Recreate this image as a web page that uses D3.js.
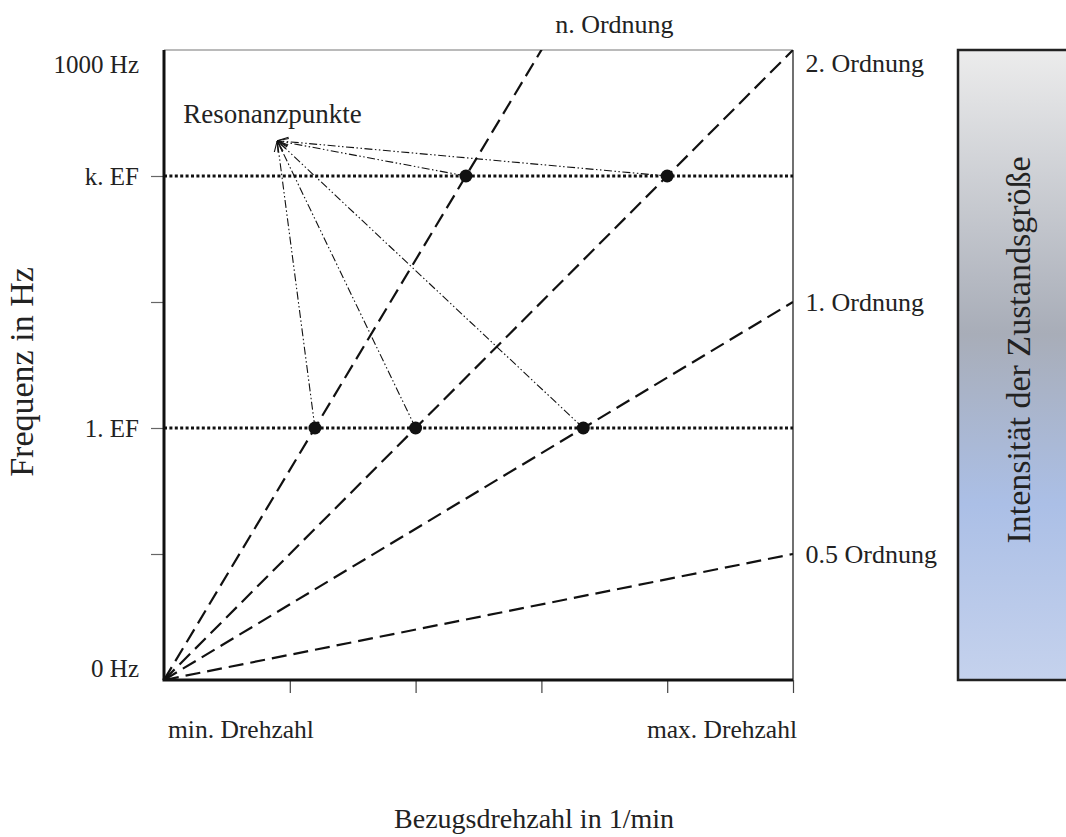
<!DOCTYPE html>
<html>
<head>
<meta charset="utf-8">
<script src="https://cdn.jsdelivr.net/npm/d3@7"></script>
<style>
  body { margin: 0; background: #fff; }
  text { font-family: "Liberation Serif", "Times New Roman", serif; fill: #222; }
</style>
</head>
<body>
<div id="chart"></div>
<script>
// order lines: slope = frequency units per speed unit
const orders = [
  { name: "n. Ordnung", slope: 5 / 3 },
  { name: "2. Ordnung", slope: 1 },
  { name: "1. Ordnung", slope: 0.6 },
  { name: "0.5 Ordnung", slope: 0.2 }
];
// where the order labels sit (data units)
const orderLabels = [
  { name: "n. Ordnung", x: 3.58, y: 5.21, anchor: "middle" },
  { name: "2. Ordnung", x: 5.1, y: 4.9, anchor: "start" },
  { name: "1. Ordnung", x: 5.1, y: 3.0, anchor: "start" },
  { name: "0.5 Ordnung", x: 5.1, y: 1.0, anchor: "start" }
];
// eigenfrequencies
const eigen = [
  { name: "1. EF", y: 2 },
  { name: "k. EF", y: 4 }
];
const yTickLabels = [
  { v: 0, label: "0 Hz" },
  { v: 2, label: "1. EF" },
  { v: 4, label: "k. EF" },
  { v: 5, label: "1000 Hz" }
];
const yTickMarks = [1, 2, 3, 4];
const xTickMarks = [1, 2, 3, 4, 5];
const xLabels = [
  { v: 0, label: "min. Drehzahl", anchor: "start" },
  { v: 5, label: "max. Drehzahl", anchor: "end" }
];
// resonance points = crossings of orders with eigenfrequencies
const resonance = [
  { x: 1.2, y: 2 }, { x: 2, y: 2 }, { x: 3.333, y: 2 },
  { x: 2.4, y: 4 }, { x: 4, y: 4 }
];
const annot = { x: 0.9, y: 4.28, label: "Resonanzpunkte" };

const svgWidth = 1066, svgHeight = 837;
const margin = { top: 50, left: 164 };
const width = 629, height = 630;

const svg = d3.select("#chart").append("svg")
  .attr("width", svgWidth)
  .attr("height", svgHeight);

const defs = svg.append("defs");
const grad = defs.append("linearGradient")
  .attr("id", "intens").attr("x1", 0).attr("y1", 0).attr("x2", 0).attr("y2", 1);
[["0%", "#ececec"], ["45%", "#a8adb8"], ["72%", "#abbfe6"], ["100%", "#c5d2ed"]]
  .forEach(s => grad.append("stop").attr("offset", s[0]).attr("stop-color", s[1]));

defs.append("marker")
  .attr("id", "arrow")
  .attr("viewBox", "0 0 10 10")
  .attr("refX", 10).attr("refY", 5)
  .attr("markerWidth", 11).attr("markerHeight", 11)
  .attr("markerUnits", "userSpaceOnUse")
  .attr("orient", "auto")
  .append("path")
  .attr("d", "M0,1 L10,5 L0,9")
  .attr("fill", "none")
  .attr("stroke", "#111")
  .attr("stroke-width", 1);

const chart = svg.append("g")
  .attr("transform", `translate(${margin.left},${margin.top})`);

const x = d3.scaleLinear().domain([0, 5]).range([0, width]);
const y = d3.scaleLinear().domain([0, 5]).range([height, 0]);

// frame: top thin grey, right thin black
chart.append("line").attr("x1", 0).attr("x2", width).attr("y1", 0).attr("y2", 0)
  .attr("stroke", "#777").attr("stroke-width", 1.2);
chart.append("line").attr("x1", width).attr("x2", width).attr("y1", 0).attr("y2", height)
  .attr("stroke", "#111").attr("stroke-width", 1.2);

// eigenfrequency lines
chart.selectAll(".ef").data(eigen).enter().append("line")
  .attr("x1", x(0)).attr("x2", x(5))
  .attr("y1", d => y(d.y)).attr("y2", d => y(d.y))
  .attr("stroke", "#111").attr("stroke-width", 3)
  .attr("stroke-dasharray", "3,2.4");

// order lines, clipped to plot
defs.append("clipPath").attr("id", "plotclip").append("rect")
  .attr("width", width).attr("height", height);
chart.append("g").attr("clip-path", "url(#plotclip)")
  .selectAll(".ord").data(orders).enter().append("line")
  .attr("x1", x(0)).attr("y1", y(0))
  .attr("x2", x(5)).attr("y2", d => y(5 * d.slope))
  .attr("stroke", "#111").attr("stroke-width", 2.2)
  .attr("stroke-dasharray", "15,7");

// annotation lines
chart.selectAll(".ann").data(resonance).enter().append("line")
  .attr("x1", d => x(d.x)).attr("y1", d => y(d.y))
  .attr("x2", x(annot.x)).attr("y2", y(annot.y))
  .attr("stroke", "#111").attr("stroke-width", 1.1)
  .attr("stroke-dasharray", "8,2.5,1.5,2.5,1.5,2.5")
  .attr("marker-end", "url(#arrow)");

chart.selectAll(".pt").data(resonance).enter().append("circle")
  .attr("cx", d => x(d.x)).attr("cy", d => y(d.y))
  .attr("r", 6.5).attr("fill", "#111");

chart.append("text")
  .attr("x", x(annot.x) - 94).attr("y", y(annot.y) - 18)
  .attr("font-size", 27)
  .text(annot.label);

// axes
const yAxis = d3.axisLeft(y).tickValues(yTickMarks).tickSize(13).tickFormat("");
const yg = chart.append("g").call(yAxis);
yg.select(".domain").remove();
yg.selectAll(".tick line").attr("stroke", "#666").attr("stroke-width", 1.2);

const xAxis = d3.axisBottom(x).tickValues(xTickMarks).tickSize(13).tickFormat("");
const xg = chart.append("g").attr("transform", `translate(0,${height})`).call(xAxis);
xg.select(".domain").remove();
xg.selectAll(".tick line").attr("stroke", "#444").attr("stroke-width", 1.2);

// thick left and bottom axis lines
chart.append("line").attr("x1", 0).attr("x2", 0).attr("y1", 0).attr("y2", height)
  .attr("stroke", "#111").attr("stroke-width", 3);
chart.append("line").attr("x1", -1.5).attr("x2", width).attr("y1", height).attr("y2", height)
  .attr("stroke", "#111").attr("stroke-width", 3);

// y tick labels (ends pulled inward like the original)
chart.selectAll(".ylab").data(yTickLabels).enter().append("text")
  .attr("x", -25)
  .attr("y", d => y(d.v) + (d.v === 5 ? 14 : d.v === 0 ? -12 : 0))
  .attr("dy", "0.35em")
  .attr("text-anchor", "end")
  .attr("font-size", 25)
  .text(d => d.label);

chart.selectAll(".xlab").data(xLabels).enter().append("text")
  .attr("x", d => x(d.v) + 4)
  .attr("y", height + 58)
  .attr("text-anchor", d => d.anchor)
  .attr("font-size", 25.5)
  .text(d => d.label);

chart.selectAll(".olab").data(orderLabels).enter().append("text")
  .attr("x", d => x(d.x))
  .attr("y", d => y(d.y))
  .attr("dy", "0.35em")
  .attr("text-anchor", d => d.anchor)
  .attr("font-size", 26)
  .text(d => d.name);

// axis titles
svg.append("text")
  .attr("x", 534)
  .attr("y", 828)
  .attr("text-anchor", "middle")
  .attr("font-size", 28)
  .text("Bezugsdrehzahl in 1/min");

svg.append("text")
  .attr("transform", "rotate(-90)")
  .attr("x", -372).attr("y", 33)
  .attr("text-anchor", "middle")
  .attr("font-size", 34)
  .text("Frequenz in Hz");

// intensity bar
svg.append("rect")
  .attr("x", 958).attr("y", margin.top)
  .attr("width", 130).attr("height", height)
  .attr("fill", "url(#intens)")
  .attr("stroke", "#222").attr("stroke-width", 2.5);

svg.append("text")
  .attr("transform", "rotate(-90)")
  .attr("x", -350).attr("y", 1030)
  .attr("text-anchor", "middle")
  .attr("font-size", 34)
  .text("Intensität der Zustandsgröße");
</script>
</body>
</html>
